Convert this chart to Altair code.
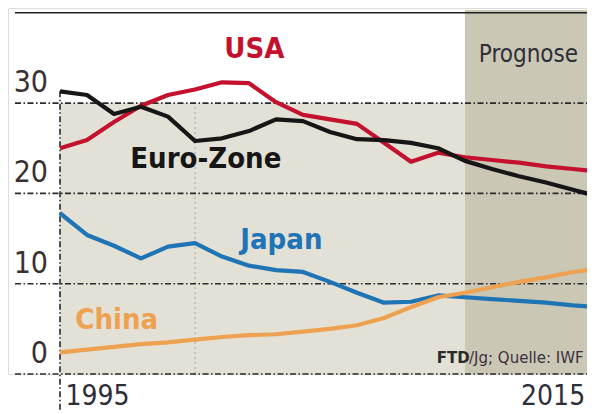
import altair as alt
import pandas as pd

years = list(range(1995, 2016))
usa = [25.0, 25.9, 27.9, 29.7, 30.9, 31.5, 32.3, 32.2, 30.1, 28.7, 28.2, 27.7, 25.6, 23.5, 24.5,
       24.0, 23.7, 23.4, 23.0, 22.7, 22.4]
euro = [31.3, 30.9, 28.8, 29.6, 28.5, 25.8, 26.1, 26.9, 28.2, 28.0, 26.8, 26.0, 25.9, 25.6, 25.0,
        23.6, 22.7, 21.9, 21.2, 20.4, 19.6]
japan = [17.8, 15.4, 14.2, 12.8, 14.1, 14.5, 13.0, 12.0, 11.5, 11.3, 10.2, 9.0, 7.9, 8.0, 8.7,
         8.5, 8.3, 8.1, 7.9, 7.6, 7.4]
china = [2.4, 2.7, 3.0, 3.3, 3.5, 3.8, 4.1, 4.3, 4.4, 4.7, 5.0, 5.4, 6.2, 7.4, 8.5,
         9.0, 9.6, 10.2, 10.7, 11.3, 11.7]

series_names = ["USA", "Euro-Zone", "Japan", "China"]
series_colors = ["#c3112e", "#161616", "#1f74b6", "#eea150"]
label_x = [2002.2, 2000.4, 2003.2, 1997.1]
label_y = [35.0, 22.8, 13.8, 5.0]

y_ticks = [0, 10, 20, 30]
x_labels = ["1995", "2015"]
forecast_start = 2010
history_start = 1995
top_value = 40

FONT = "DejaVu Sans Condensed, Liberation Sans, Noto Sans, sans-serif"
FONT_W = "DejaVu Sans, Liberation Sans, sans-serif"

W, H = 579, 366
X_DOM = [1993.074, 1993.074 + W / 27.0]
Y_DOM = [0, 40.53]

rows = []
for name, vals in zip(series_names, [usa, euro, japan, china]):
    for yr, v in zip(years, vals):
        rows.append({"year": yr, "value": v, "series": name})
df = pd.DataFrame(rows)

xs = alt.Scale(domain=X_DOM, nice=False, zero=False)
ys = alt.Scale(domain=Y_DOM, nice=False, zero=False)
X = lambda f: alt.X(f, type="quantitative", scale=xs, axis=None)
Y = lambda f: alt.Y(f, type="quantitative", scale=ys, axis=None)

bands = pd.DataFrame([
    {"x0": history_start, "x1": forecast_start, "y0": 0, "y1": 30, "c": "#e3e0d6"},
    {"x0": forecast_start, "x1": X_DOM[1] + 1, "y0": 0, "y1": top_value + 0.3, "c": "#cbc7b5"},
])
band_layer = alt.Chart(bands).mark_rect(clip=True).encode(
    x=X("x0"), x2="x1", y=Y("y0"), y2="y1",
    color=alt.Color("c:N", scale=None))

grid_df = pd.DataFrame({"v": y_ticks})
grid = alt.Chart(grid_df).mark_rule(color="#2a2a2a", strokeWidth=1.6,
                                    strokeDash=[6, 2.5, 1.5, 2.5]).encode(
    y=Y("v"), x=alt.value(7), x2=alt.value(W))

top_df = pd.DataFrame({"v": [top_value]})
top_rule = alt.Chart(top_df).mark_rule(color="#222222", strokeWidth=1.6).encode(
    y=Y("v"), x=alt.value(7), x2=alt.value(W))

v1995 = pd.DataFrame({"x": [history_start], "y": [euro[0]]})
vrule1995 = alt.Chart(v1995).mark_rule(color="#2a2a2a", strokeWidth=1.6,
                                       strokeDash=[6, 2.5, 1.5, 2.5]).encode(
    x=X("x"), y=Y("y"), y2=alt.value(H + 38))

v2000 = pd.DataFrame({"x": [2000], "y0": [0], "y1": [30]})
vrule2000 = alt.Chart(v2000).mark_rule(color="#b5b3aa", strokeWidth=1.3,
                                       strokeDash=[2, 3]).encode(
    x=X("x"), y=Y("y0"), y2="y1")

lines = alt.Chart(df).mark_line(strokeWidth=4.2, clip=True, strokeJoin="round").encode(
    x=X("year"), y=Y("value"),
    color=alt.Color("series:N", scale=alt.Scale(domain=series_names, range=series_colors),
                    legend=None),
    detail="series:N")

lab_df = pd.DataFrame({"name": series_names, "x": label_x, "y": label_y, "c": series_colors})
labels = alt.Chart(lab_df).mark_text(font=FONT, fontSize=29,
                                     fontWeight="bold", baseline="alphabetic").encode(
    x=X("x"), y=Y("y"), text="name:N", color=alt.Color("c:N", scale=None))

prog_df = pd.DataFrame({"t": ["Prognose"], "x": [2012.35], "y": [34.5]})
prog = alt.Chart(prog_df).mark_text(font=FONT, fontSize=24,
                                    color="#2e2e38", baseline="alphabetic").encode(
    x=X("x"), y=Y("y"), text="t:N")

src_df1 = pd.DataFrame({"t": ["FTD"], "x": [2008.95], "y": [1.25]})
src1 = alt.Chart(src_df1).mark_text(font=FONT_W, fontSize=15, fontWeight="bold",
                                    color="#2a2a2a", align="left", baseline="alphabetic").encode(
    x=X("x"), y=Y("y"), text="t:N")
src_df2 = pd.DataFrame({"t": ["/Jg; Quelle: IWF"], "x": [2010.15], "y": [1.25]})
src2 = alt.Chart(src_df2).mark_text(font=FONT_W, fontSize=15,
                                    color="#3a3040", align="left", baseline="alphabetic").encode(
    x=X("x"), y=Y("y"), text="t:N")

ylab_df = pd.DataFrame({"v": y_ticks, "t": [str(t) for t in y_ticks]})
ylabels = alt.Chart(ylab_df).mark_text(font=FONT, fontSize=30,
                                       color="#3a3030", align="right", baseline="alphabetic",
                                       dy=-11).encode(
    x=alt.X("xx:Q", scale=xs, axis=None), y=Y("v"), text="t:N").transform_calculate(xx="1994.556")

xlab_df = pd.DataFrame({"t": x_labels, "x": [1995.2, 2014.45]})
xl1 = alt.Chart(xlab_df.iloc[[0]]).mark_text(font=FONT, fontSize=28,
                                             color="#2e2e38", align="left", baseline="alphabetic",
                                             dy=31).encode(
    x=X("x"), y=alt.Y("y0:Q", scale=ys, axis=None), text="t:N").transform_calculate(y0="0")
xl2 = alt.Chart(xlab_df.iloc[[1]]).mark_text(font=FONT, fontSize=28,
                                             color="#2e2e38", align="right", baseline="alphabetic",
                                             dy=31).encode(
    x=X("x"), y=alt.Y("y0:Q", scale=ys, axis=None), text="t:N").transform_calculate(y0="0")

chart = alt.layer(band_layer, vrule2000, grid, top_rule, vrule1995, lines, labels, prog,
                  src1, src2, ylabels, xl1, xl2).properties(
    width=W, height=H,
    autosize=alt.AutoSizeParams(type="none"),
    padding={"left": 0, "top": 0, "right": 0, "bottom": 38},
).configure_view(stroke=None).configure(background="white")

chart.save("out.html", embed_options={"renderer": "svg", "actions": False})
